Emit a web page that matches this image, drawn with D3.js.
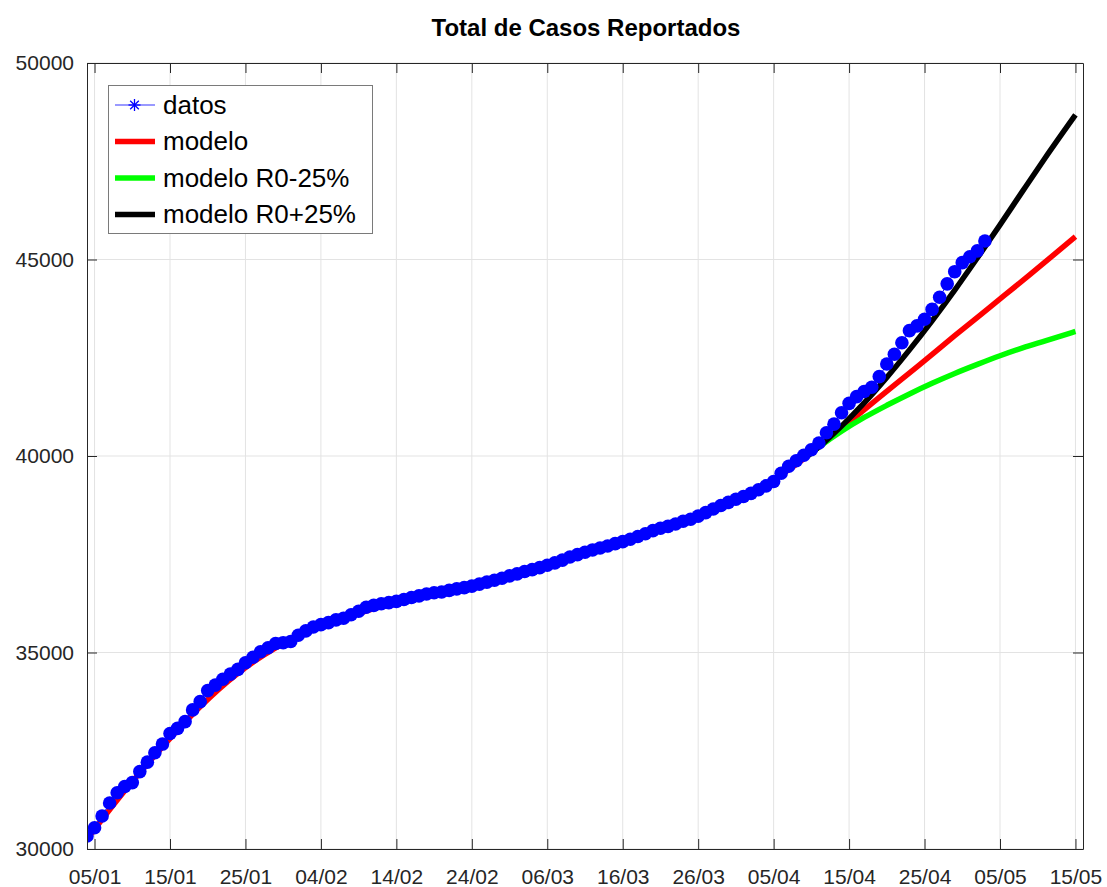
<!DOCTYPE html>
<html>
<head>
<meta charset="utf-8">
<script src="https://cdn.jsdelivr.net/npm/d3@7"></script>
<style>
  html, body { margin: 0; padding: 0; background: #fff; }
  svg { display: block; }
  text { font-family: "Liberation Sans", Arial, Helvetica, sans-serif; }
</style>
</head>
<body>
<svg id="chart" width="1107" height="887"></svg>
<script>
// ---------------- DATA ----------------
const chartTitle = "Total de Casos Reportados";
const dataStart = "2021-01-04";
// daily cumulative reported cases from 2021-01-04
const casosDatos = [
  30330, 30540, 30840, 31170, 31430, 31590, 31690, 31970, 32210, 32450,
  32670, 32940, 33070, 33240, 33540, 33750, 34030, 34170, 34320, 34450,
  34570, 34740, 34880, 35020, 35120, 35230, 35250, 35280, 35440, 35550,
  35650, 35710, 35760, 35830, 35870, 35960, 36050, 36150, 36200, 36240,
  36270, 36300, 36350, 36400, 36440, 36490, 36520, 36540, 36580, 36620,
  36650, 36690, 36740, 36790, 36840, 36890, 36950, 37000, 37060, 37110,
  37160, 37220, 37280, 37350, 37430, 37490, 37550, 37610, 37660, 37710,
  37770, 37820, 37880, 37950, 38020, 38100, 38160, 38210, 38270, 38340,
  38390, 38470, 38560, 38650, 38740, 38820, 38900, 38970, 39050, 39140,
  39240, 39350, 39560, 39740, 39880, 40020, 40160, 40330, 40590, 40810,
  41100, 41340, 41510, 41640, 41750, 42020, 42340, 42590, 42880, 43190,
  43310, 43480, 43730, 44040, 44380, 44690, 44920, 45070, 45220, 45470
];
const modeloFechas = [
  "2021-01-04","2021-01-09","2021-01-14","2021-01-19","2021-01-24","2021-01-29",
  "2021-02-03","2021-02-08","2021-02-13","2021-02-18","2021-02-23","2021-02-28",
  "2021-03-05","2021-03-10","2021-03-15","2021-03-20","2021-03-25","2021-03-30",
  "2021-04-04","2021-04-09","2021-04-11","2021-04-14","2021-04-19","2021-04-24",
  "2021-04-29","2021-05-04","2021-05-09","2021-05-15"
];
const modeloValores = [
  30250, 31480, 32600, 33620, 34470, 35120,
  35580, 35930, 36230, 36480, 36700, 36920,
  37160, 37450, 37760, 38080, 38410, 38800,
  39280, 39930, 40230, 40700, 41490, 42270,
  43060, 43840, 44620, 45580
];
const escenarioFechas = [
  "2021-04-09","2021-04-11","2021-04-14","2021-04-17","2021-04-20","2021-04-23",
  "2021-04-26","2021-04-29","2021-05-02","2021-05-05","2021-05-08","2021-05-11","2021-05-15"
];
const modeloMenos25 = [39930, 40230, 40630, 40980, 41290, 41580, 41850, 42100, 42330, 42550, 42750, 42930, 43170];
const modeloMas25   = [39930, 40230, 40760, 41350, 42000, 42700, 43440, 44220, 45040, 45880, 46740, 47590, 48680];

const xTickFechas = ["2021-01-05","2021-01-15","2021-01-25","2021-02-04","2021-02-14","2021-02-24",
  "2021-03-06","2021-03-16","2021-03-26","2021-04-05","2021-04-15","2021-04-25","2021-05-05","2021-05-15"];
const yTicks = [30000, 35000, 40000, 45000, 50000];
const xDomain = ["2021-01-04", "2021-05-16"];
const yDomain = [30000, 50000];
const legendLabels = ["datos", "modelo", "modelo R0-25%", "modelo R0+25%"];

// ---------------- DRAW ----------------
const parse = d3.utcParse("%Y-%m-%d");
const fmt = d3.utcFormat("%d/%m");
const svg = d3.select("#chart");

const L = 87, R = 1083, T = 63, B = 849;
const x = d3.scaleUtc().domain(xDomain.map(parse)).range([L, R]);
const y = d3.scaleLinear().domain(yDomain).range([B, T]);

const axisColor = "#262626";
const gridColor = "#e3e3e3";

// grid
const g = svg.append("g");
g.selectAll(".gx").data(xTickFechas.map(parse)).join("line")
  .attr("x1", d => x(d)).attr("x2", d => x(d)).attr("y1", T).attr("y2", B)
  .attr("stroke", gridColor).attr("stroke-width", 1);
g.selectAll(".gy").data(yTicks).join("line")
  .attr("x1", L).attr("x2", R).attr("y1", d => y(d)).attr("y2", d => y(d))
  .attr("stroke", gridColor).attr("stroke-width", 1);

// clip
svg.append("clipPath").attr("id", "clip").append("rect")
  .attr("x", L).attr("y", T).attr("width", R - L).attr("height", B - T);

const plot = svg.append("g").attr("clip-path", "url(#clip)");

const lineGen = d3.line().x(d => x(d[0])).y(d => y(d[1])).curve(d3.curveMonotoneX);

const datos = casosDatos.map((v, i) => [d3.utcDay.offset(parse(dataStart), i), v]);
const modelo = modeloFechas.map((f, i) => [parse(f), modeloValores[i]]);
const menos = escenarioFechas.map((f, i) => [parse(f), modeloMenos25[i]]);
const mas = escenarioFechas.map((f, i) => [parse(f), modeloMas25[i]]);

// model lines (under the data markers)
plot.append("path").datum(modelo).attr("d", lineGen)
  .attr("fill", "none").attr("stroke", "#ff0000").attr("stroke-width", 5.5);
plot.append("path").datum(menos).attr("d", lineGen)
  .attr("fill", "none").attr("stroke", "#00ff00").attr("stroke-width", 5.5);
plot.append("path").datum(mas).attr("d", lineGen)
  .attr("fill", "none").attr("stroke", "#000000").attr("stroke-width", 5.5);

// data series
plot.append("path").datum(datos)
  .attr("d", d3.line().x(d => x(d[0])).y(d => y(d[1])))
  .attr("fill", "none").attr("stroke", "#0000ff").attr("stroke-width", 1);
plot.selectAll(".dot").data(datos).join("circle")
  .attr("cx", d => x(d[0])).attr("cy", d => y(d[1])).attr("r", 6.8)
  .attr("fill", "#0000ff");

// axes (box with inward ticks)
const axG = svg.append("g");
const xBottom = d3.axisBottom(x).tickValues(xTickFechas.map(parse)).tickFormat(fmt)
  .tickSizeInner(-10).tickSizeOuter(0).tickPadding(24);
const xTop = d3.axisTop(x).tickValues(xTickFechas.map(parse)).tickFormat("")
  .tickSizeInner(-10).tickSizeOuter(0);
const yLeft = d3.axisLeft(y).tickValues(yTicks).tickFormat(d3.format("d"))
  .tickSizeInner(-10).tickSizeOuter(0).tickPadding(13);
const yRight = d3.axisRight(y).tickValues(yTicks).tickFormat("")
  .tickSizeInner(-10).tickSizeOuter(0);

function style(sel) {
  sel.selectAll("path").attr("stroke", axisColor).attr("stroke-width", 1);
  sel.selectAll("line").attr("stroke", axisColor).attr("stroke-width", 1);
  sel.selectAll("text").attr("fill", axisColor).style("font-size", "21px")
    .style("font-family", '"Liberation Sans", Arial, sans-serif');
}
const xb = axG.append("g").attr("transform", `translate(0,${B})`).call(xBottom).call(style);
xb.selectAll(".tick text").attr("dy", "0.5em");
axG.append("g").attr("transform", `translate(0,${T})`).call(xTop).call(style);
axG.append("g").attr("transform", `translate(${L},0)`).call(yLeft).call(style);
axG.append("g").attr("transform", `translate(${R},0)`).call(yRight).call(style);

// title
svg.append("text").attr("x", 586).attr("y", 36).attr("text-anchor", "middle")
  .style("font-size", "24px").style("font-weight", "bold").attr("fill", "#000")
  .text(chartTitle);

// legend
const lg = svg.append("g");
lg.append("rect").attr("x", 108.5).attr("y", 85.5).attr("width", 264).attr("height", 148)
  .attr("fill", "#fff").attr("stroke", "#7a7a7a").attr("stroke-width", 1);
const legendColors = ["#0000ff", "#ff0000", "#00ff00", "#000000"];
const legendY = [105, 141.5, 178, 214.5];
legendLabels.forEach((lab, i) => {
  const yy = legendY[i];
  lg.append("line").attr("x1", 115).attr("x2", 155).attr("y1", yy).attr("y2", yy)
    .attr("stroke", legendColors[i]).attr("stroke-width", i === 0 ? 1 : 5.5)
    .attr("stroke-opacity", i === 0 ? 0.8 : 1);
  if (i === 0) {
    const cx = 134.5, s = 6;
    [[0, s], [s, 0], [s * 0.72, s * 0.72], [s * 0.72, -s * 0.72]].forEach(([dx, dy]) => {
      lg.append("line").attr("x1", cx - dx).attr("x2", cx + dx).attr("y1", yy - dy).attr("y2", yy + dy)
        .attr("stroke", "#0000ff").attr("stroke-width", 1.3);
    });
  }
  lg.append("text").attr("x", 163).attr("y", yy + 8.5)
    .style("font-size", "26px").attr("fill", "#000").text(lab);
});
</script>
</body>
</html>
